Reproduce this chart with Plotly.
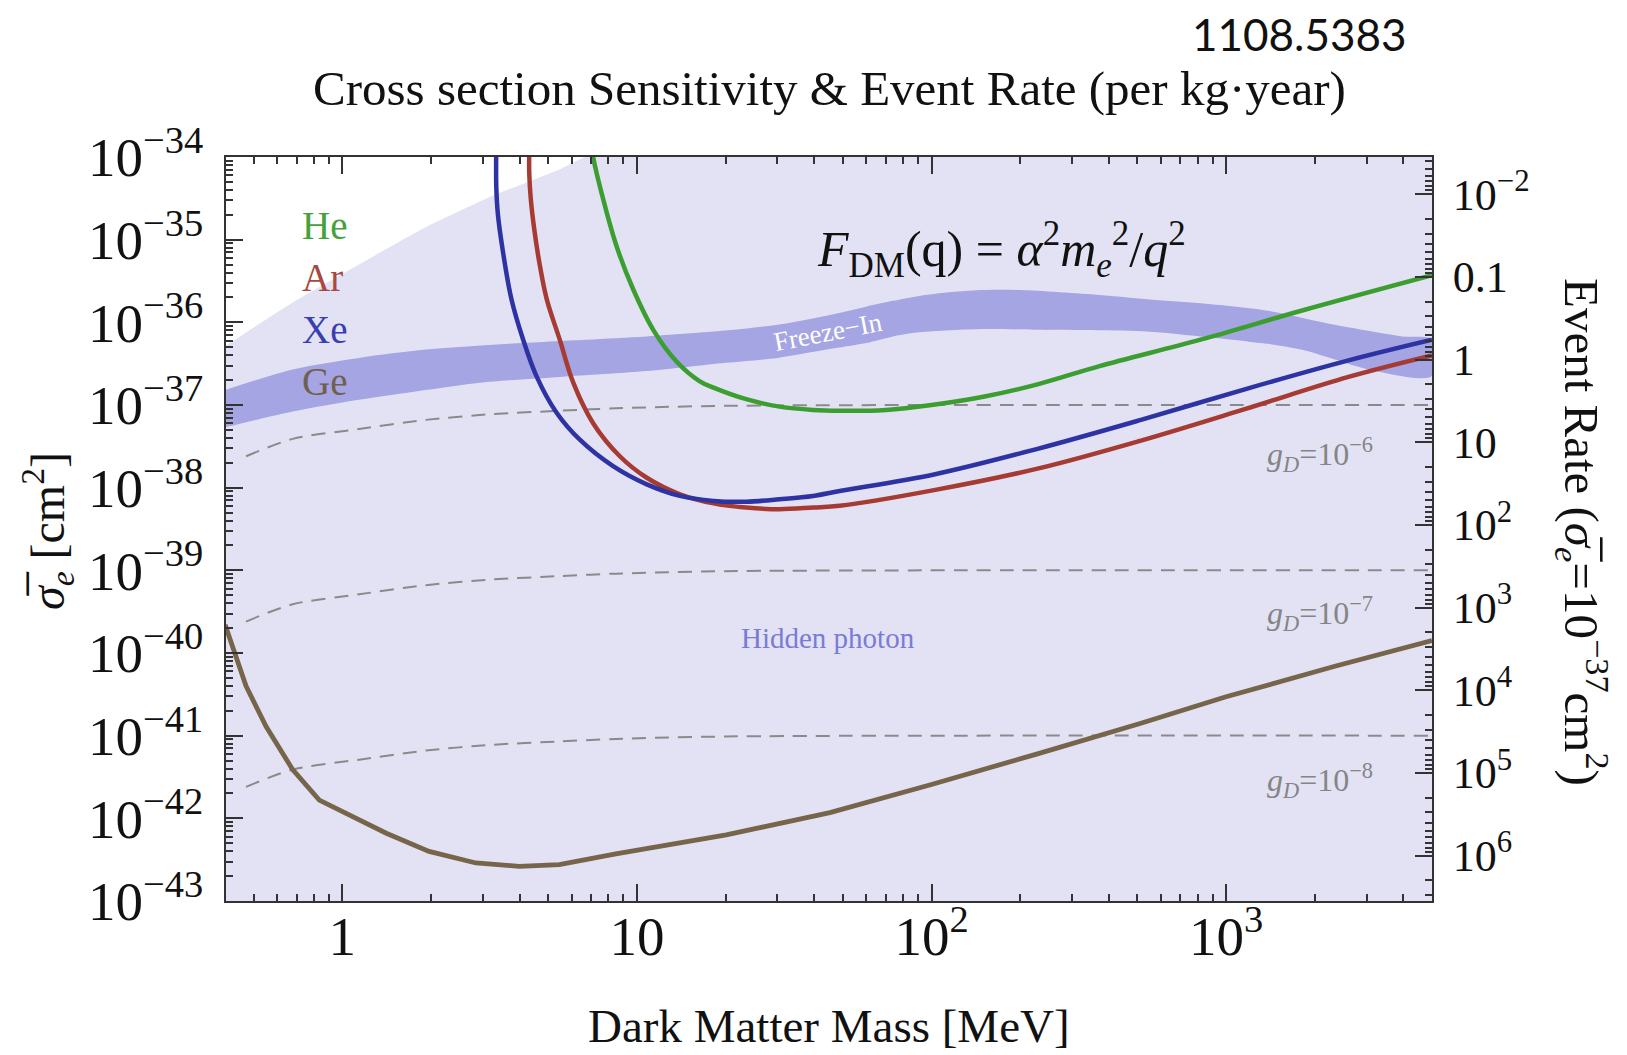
import plotly.graph_objects as go

# ---------------- data (log10 of cross section in cm^2) ----------------
he_mass = [7.0, 7.10, 7.68, 8.53, 9.71, 11.4, 13.6, 16.3, 18.2, 23.5, 30.5, 39.6, 48.8,
           70, 100, 150, 229, 372, 819, 1800, 5000]
he_logsig = [-33.85, -34.0, -34.51, -35.08, -35.60, -36.10, -36.47, -36.71, -36.79, -36.93,
             -37.02, -37.06, -37.07, -37.06, -37.0, -36.9, -36.75, -36.53, -36.21, -35.86, -35.43]

xe_mass = [3.33, 3.33, 3.37, 3.50, 3.75, 4.11, 4.56, 5.33, 6.40, 8.30, 10.8, 14.0, 18.2, 23.5,
           30.5, 39.6, 48.8, 102, 229, 514, 1157, 2603, 5000]
xe_logsig = [-33.9, -34.35, -34.68, -35.12, -35.72, -36.21, -36.65, -37.09, -37.42, -37.74,
             -37.96, -38.10, -38.16, -38.17, -38.14, -38.10, -38.04, -37.84, -37.53, -37.18,
             -36.81, -36.46, -36.21]

ar_mass = [4.31, 4.31, 4.36, 4.48, 4.66, 4.94, 5.47, 6.08, 7.10, 8.75, 10.8, 14.0, 18.2, 23.5,
           30.5, 39.6, 48.8, 102, 229, 514, 1157, 2603, 5000]
ar_logsig = [-33.9, -34.2, -34.5, -34.87, -35.27, -35.72, -36.21, -36.73, -37.22, -37.62,
             -37.88, -38.08, -38.19, -38.24, -38.26, -38.24, -38.22, -38.03, -37.77, -37.43,
             -37.05, -36.66, -36.40]

ge_mass = [0.40, 0.471, 0.551, 0.678, 0.835, 1.0, 1.41, 1.97, 2.84, 3.98, 5.45, 8.48, 20.1,
           45.2, 100, 229, 514, 1000, 2340, 5000]
ge_logsig = [-39.66, -40.40, -40.89, -41.41, -41.78, -41.92, -42.18, -42.40, -42.54, -42.58,
             -42.56, -42.43, -42.20, -41.93, -41.59, -41.22, -40.85, -40.53, -40.16, -39.85]

# Freeze-In band
fi_upper_mass = [0.40, 0.678, 1.14, 1.92, 3.24, 6.7, 10.8, 20, 30, 44, 60, 74, 91, 120, 150,
                 200, 372, 538, 819, 1384, 2340, 3960, 5000]
fi_upper_logsig = [-36.82, -36.57, -36.43, -36.33, -36.27, -36.21, -36.17, -36.10, -36.03,
                   -35.92, -35.81, -35.74, -35.68, -35.63, -35.61, -35.61, -35.67, -35.72,
                   -35.77, -35.86, -36.03, -36.17, -36.21]
fi_lower_mass = [0.40, 0.678, 1.0, 1.92, 2.93, 5.5, 10.8, 20, 30, 44, 60, 74, 91, 150, 225,
                 538, 819, 1384, 1800, 2340, 3044, 5000]
fi_lower_logsig = [-37.27, -37.08, -36.97, -36.82, -36.73, -36.66, -36.59, -36.49, -36.43,
                   -36.33, -36.25, -36.17, -36.12, -36.08, -36.09, -36.11, -36.17, -36.26,
                   -36.33, -36.45, -36.57, -36.65]

# Region outside the hidden-photon area (top-left corner)
hp_out_mass = [0.40, 0.678, 1.14, 1.92, 3.24, 5.45, 6.2, 7.0, 0.40]
hp_out_logsig = [-36.29, -35.76, -35.30, -34.85, -34.47, -34.15, -34.05, -33.95, -33.95]

# g_D contours
gd_mass = [0.471, 0.678, 1.14, 1.92, 3.24, 5.45, 8.48, 20, 5000]
gd6_logsig = [-37.62, -37.41, -37.29, -37.18, -37.11, -37.07, -37.04, -37.01, -37.0]
gd7_logsig = [-39.62, -39.41, -39.29, -39.18, -39.11, -39.07, -39.04, -39.01, -39.0]
gd8_logsig = [-41.62, -41.41, -41.29, -41.18, -41.11, -41.07, -41.04, -41.01, -41.0]

# right axis (event rate) ticks
rate_tickvals = [1e-2, 0.1, 1, 10, 1e2, 1e3, 1e4, 1e5, 1e6]
rate_ticktext = ['10<sup>\u22122</sup>', '0.1', '1', '10', '10<sup>2</sup>', '10<sup>3</sup>',
                 '10<sup>4</sup>', '10<sup>5</sup>', '10<sup>6</sup>']


def sig(v):
    return [10 ** x for x in v]


SERIF = 'Liberation Serif'
LAV = '#E2E2F4'
BAND = '#A5A5E3'
FRAME = '#333333'

fig = go.Figure()

fig.add_trace(go.Scatter(x=hp_out_mass, y=sig(hp_out_logsig), mode='lines', fill='toself',
                         fillcolor='white', line=dict(width=0, shape='spline', smoothing=0.6),
                         hoverinfo='skip'))
fig.add_trace(go.Scatter(x=fi_upper_mass + fi_lower_mass[::-1],
                         y=sig(fi_upper_logsig + fi_lower_logsig[::-1]),
                         mode='lines', fill='toself', fillcolor=BAND,
                         line=dict(width=0, shape='spline', smoothing=0.8), hoverinfo='skip'))
for g in (gd6_logsig, gd7_logsig, gd8_logsig):
    fig.add_trace(go.Scatter(x=gd_mass, y=sig(g), mode='lines',
                             line=dict(color='#8A8A8A', width=2, dash='14px,9px',
                                       shape='spline', smoothing=0.8)))

fig.add_trace(go.Scatter(x=ge_mass, y=sig(ge_logsig), mode='lines',
                         line=dict(color='#76654A', width=4.8)))
fig.add_trace(go.Scatter(x=he_mass, y=sig(he_logsig), mode='lines',
                         line=dict(color='#3C9E31', width=4.5, shape='spline', smoothing=1.0)))
fig.add_trace(go.Scatter(x=ar_mass, y=sig(ar_logsig), mode='lines',
                         line=dict(color='#A63B33', width=4.5, shape='spline', smoothing=1.0)))
fig.add_trace(go.Scatter(x=xe_mass, y=sig(xe_logsig), mode='lines',
                         line=dict(color='#2E33A3', width=4.5, shape='spline', smoothing=1.0)))
# empty trace so the event-rate axis on the right is drawn
fig.add_trace(go.Scatter(x=[], y=[], yaxis='y2', mode='lines', showlegend=False,
                         hoverinfo='skip'))

tickfont = dict(family=SERIF, size=44, color='#111')
axis_common = dict(type='log', showgrid=False, zeroline=False, showline=True,
                   linecolor=FRAME, linewidth=2, ticks='inside', ticklen=17, tickwidth=2,
                   tickcolor=FRAME, tickfont=tickfont)
minor_common = dict(ticks='inside', ticklen=7, tickwidth=1.5, tickcolor=FRAME, showgrid=False)

fig.update_layout(
    width=1627, height=1055,
    margin=dict(l=226, r=195, t=157, b=154),
    paper_bgcolor='white', plot_bgcolor=LAV,
    showlegend=False,
    xaxis=dict(**axis_common, range=[-0.395, 3.699], dtick=1, exponentformat='power',
               mirror='ticks', ticklabelstandoff=-12, minor=minor_common),
    yaxis=dict(**axis_common, range=[-43, -34], dtick=1, exponentformat='power',
               mirror=True, ticklabelstandoff=12, minor=minor_common),
    yaxis2=dict(**axis_common, overlaying='y', side='right', anchor='x',
                range=[6.55, -2.45], tickmode='array', tickvals=rate_tickvals,
                ticktext=rate_ticktext, ticklabelstandoff=10,
                minor=dict(**minor_common,
                           tickvals=[k * 10 ** p for p in range(-3, 7) for k in range(2, 10)])),
)


def ann(text, x, y, size, color='#111', family=SERIF, angle=0, xanchor='center'):
    fig.add_annotation(text=text, x=x, y=y, xref='paper', yref='paper', showarrow=False,
                       font=dict(family=family, size=size, color=color), textangle=angle,
                       xanchor=xanchor, yanchor='middle')


ann('Cross section Sensitivity &amp; Event Rate (per kg\u00b7year)', 0.5, 1.0914, 49)
ann('1108.5383', 0.8905, 1.1653, 44, family='Lato')
ann('Dark Matter Mass [MeV]', 0.5, -0.1680, 47)
ann('<i>\u03c3\u0305</i><sub><i>e</i></sub> [cm<sup>2</sup>]', -0.1484, 0.4973, 48, angle=-90)
ann('Event Rate (<i>\u03c3\u0305</i><sub><i>e</i></sub>=10<sup>\u221237</sup>cm<sup>2</sup>)',
    1.1244, 0.496, 49, angle=90)

ann('He', 0.0614, 0.9086, 39, color='#45A23A', xanchor='left')
ann('Ar', 0.0614, 0.8374, 39, color='#A94740', xanchor='left')
ann('Xe', 0.0614, 0.7675, 39, color='#3A3EAE', xanchor='left')
ann('Ge', 0.0614, 0.6976, 39, color='#6F604E', xanchor='left')

ann('<i>F</i><sub>DM</sub>(q) = <i>\u03b1</i><sup>2</sup><i>m</i><sub><i>e</i></sub><sup>2</sup>/<i>q</i><sup>2</sup>',
    0.6434, 0.8763, 50)

ann('<i>g<sub>D</sub></i>=10<sup>\u22126</sup>', 0.9071, 0.5995, 32, color='#858585')
ann('<i>g<sub>D</sub></i>=10<sup>\u22127</sup>', 0.9071, 0.3858, 32, color='#858585')
ann('<i>g<sub>D</sub></i>=10<sup>\u22128</sup>', 0.9071, 0.1613, 32, color='#858585')

ann('Hidden photon', 0.4992, 0.3535, 29, color='#7B7BD6')
ann('Freeze\u2212In', 0.4992, 0.7648, 27, color='white', angle=-11)

fig.write_html('out.html')
